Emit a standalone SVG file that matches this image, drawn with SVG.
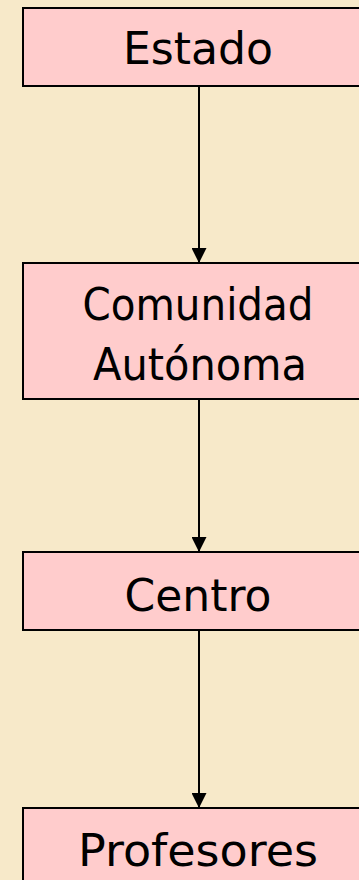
<svg xmlns="http://www.w3.org/2000/svg" width="359" height="880" viewBox="0 0 359 880">
<defs>
<style>
.box{fill:#FFCCCC;stroke:#000;stroke-width:2}
.lbl{font-family:"DejaVu Sans","Liberation Sans",sans-serif;font-size:45px;fill:#000;text-anchor:middle}
.conn{stroke:#000;stroke-width:2;fill:none}
</style>
<marker id="arr" viewBox="0 0 15 15" markerWidth="15" markerHeight="15" refX="15" refY="7.5" orient="auto" markerUnits="userSpaceOnUse">
<path d="M0,0 L15,7.5 L0,15 Z" fill="#000"/>
</marker>
</defs>
<rect width="359" height="880" fill="#F7E9C9"/>
<g id="connectors">
<line class="conn" x1="199" y1="86" x2="199" y2="263" marker-end="url(#arr)"/>
<line class="conn" x1="199" y1="399" x2="199" y2="552" marker-end="url(#arr)"/>
<line class="conn" x1="199" y1="630" x2="199" y2="808" marker-end="url(#arr)"/>
</g>
<g id="estado">
<rect class="box" x="23" y="8" width="350" height="78"/>
<text class="lbl" x="198" y="64" textLength="150" lengthAdjust="spacingAndGlyphs">Estado</text>
</g>
<g id="comunidad">
<rect class="box" x="23" y="263" width="350" height="136"/>
<text class="lbl" x="198" y="320" textLength="231" lengthAdjust="spacingAndGlyphs">Comunidad</text>
<text class="lbl" x="200" y="380" textLength="214" lengthAdjust="spacingAndGlyphs">Autónoma</text>
</g>
<g id="centro">
<rect class="box" x="23" y="552" width="350" height="78"/>
<text class="lbl" x="198" y="611" textLength="147" lengthAdjust="spacingAndGlyphs">Centro</text>
</g>
<g id="profesores">
<rect class="box" x="23" y="808" width="350" height="90"/>
<text class="lbl" x="198" y="866" textLength="240" lengthAdjust="spacingAndGlyphs">Profesores</text>
</g>
</svg>
